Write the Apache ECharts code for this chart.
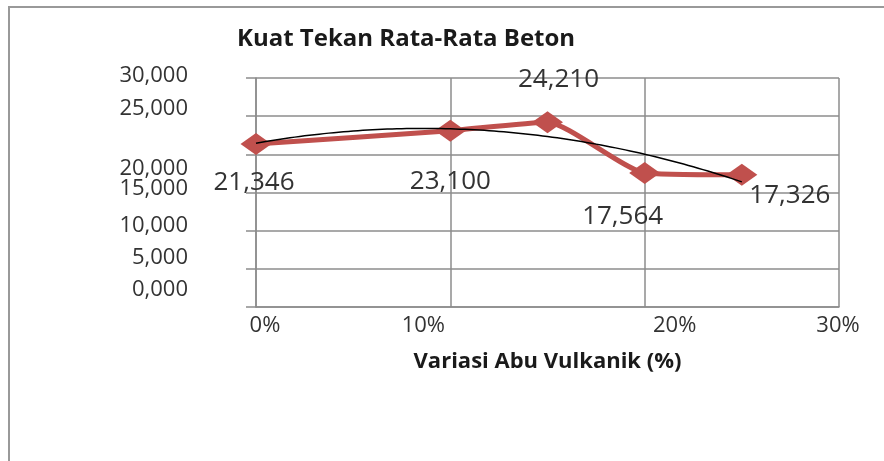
<!DOCTYPE html>
<html>
<head>
<meta charset="utf-8">
<script src="https://cdn.jsdelivr.net/npm/echarts@6/dist/echarts.min.js"></script>
<style>
  html, body { margin: 0; padding: 0; background: #fff; }
  #chart { width: 884px; height: 461px; }
</style>
</head>
<body>
<div id="chart"></div>
<script>
// data
const variasi = [0, 10, 15, 20, 25];          // % abu vulkanik
const kuatTekan = [21.346, 23.100, 24.210, 17.564, 17.326];
const xTicks = [0, 10, 20, 30];
const yTicks = [0, 5, 10, 15, 20, 25, 30];

const fmt = v => v.toFixed(3).replace('.', ',');

// polynomial (order 2) trendline, least squares on the data
function polyFit(xs, ys) {
  let s = [0, 0, 0, 0, 0], t = [0, 0, 0];
  for (let i = 0; i < xs.length; i++) {
    let p = 1;
    for (let k = 0; k < 5; k++) { s[k] += p; if (k < 3) t[k] += p * ys[i]; p *= xs[i]; }
  }
  const m = [[s[0], s[1], s[2], t[0]], [s[1], s[2], s[3], t[1]], [s[2], s[3], s[4], t[2]]];
  for (let c = 0; c < 3; c++) {
    for (let r = c + 1; r < 3; r++) {
      const f = m[r][c] / m[c][c];
      for (let k = c; k < 4; k++) m[r][k] -= f * m[c][k];
    }
  }
  const co = [0, 0, 0];
  for (let r = 2; r >= 0; r--) {
    let v = m[r][3];
    for (let k = r + 1; k < 3; k++) v -= m[r][k] * co[k];
    co[r] = v / m[r][r];
  }
  return co;
}
const co = polyFit(variasi, kuatTekan);
const trend = [];
for (let x = variasi[0]; x <= variasi[variasi.length - 1]; x += 0.5) {
  trend.push([x, co[0] + co[1] * x + co[2] * x * x]);
}

// label placement like in the original sheet
const labelOffsets = [[-2, 39], [0, 51], [11, -43], [-22, 44], [48, 21]];
const yShift = { 0: -17, 5: -11, 10: -5, 15: -4, 20: 14, 25: -7, 30: -2 };
const xShift = { 0: 9, 10: -27, 20: 30, 30: -1 };

const yRich = {}, xRich = {};
yTicks.forEach(v => {
  const d = yShift[v];
  yRich['y' + v] = { fontSize: 22, fontFamily: 'Open Sans', color: '#333',
    padding: d < 0 ? [0, 0, -2 * d, 0] : [2 * d, 0, 0, 0] };
});
xTicks.forEach(v => {
  const d = xShift[v];
  xRich['x' + v] = { fontSize: 22, fontFamily: 'Open Sans', color: '#333',
    padding: d > 0 ? [0, 0, 0, 2 * d] : [0, -2 * d, 0, 0] };
});

const gridColor = '#8c8c8c';
const chart = echarts.init(document.getElementById('chart'));

const option = {
  animation: false,
  textStyle: { fontFamily: 'Open Sans' },
  title: {
    text: 'Kuat Tekan Rata-Rata Beton',
    left: 232,
    top: 22,
    textStyle: { fontSize: 24, fontWeight: 'bold', color: '#1a1a1a', fontFamily: 'Open Sans' }
  },
  graphic: [{
    type: 'rect',
    shape: { x: 9, y: 7, width: 1000, height: 1000 },
    style: { fill: 'none', stroke: '#999', lineWidth: 2 }
  }],
  grid: { left: 256, right: 45, top: 78, bottom: 154 },
  xAxis: {
    type: 'value',
    min: 0, max: 30, interval: 10,
    name: 'Variasi Abu Vulkanik (%)',
    nameLocation: 'middle',
    nameGap: 44,
    nameTextStyle: { fontSize: 22, fontWeight: 'bold', color: '#1a1a1a' },
    axisLine: { lineStyle: { color: gridColor, width: 1.5 } },
    axisTick: { show: false },
    splitLine: { lineStyle: { color: gridColor, width: 1.5 } },
    axisLabel: {
      margin: 8,
      formatter: v => '{x' + v + '|' + v + '%}',
      rich: xRich
    }
  },
  yAxis: {
    type: 'value',
    min: 0, max: 30, interval: 5,
    axisLine: { show: true, lineStyle: { color: gridColor, width: 1.5 } },
    axisTick: { show: true, length: 10, lineStyle: { color: gridColor, width: 1.5 } },
    splitLine: { lineStyle: { color: gridColor, width: 1.5 } },
    axisLabel: {
      margin: 68,
      formatter: v => '{y' + v + '|' + fmt(v) + '}',
      rich: yRich
    }
  },
  series: [
    {
      type: 'line',
      data: variasi.map((x, i) => ({
        value: [x, kuatTekan[i]],
        label: { offset: labelOffsets[i] }
      })),
      smooth: 0.18,
      symbol: 'diamond',
      symbolSize: [31, 22],
      lineStyle: { color: '#c0504d', width: 5 },
      itemStyle: { color: '#c0504d' },
      label: {
        show: true,
        position: 'inside',
        fontSize: 26,
        fontFamily: 'Open Sans',
        color: '#333',
        textBorderWidth: 0,
        formatter: p => fmt(p.value[1])
      },
      z: 2
    },
    {
      type: 'line',
      data: trend,
      smooth: true,
      showSymbol: false,
      lineStyle: { color: '#000', width: 1.5 },
      silent: true,
      z: 3
    }
  ]
};
chart.setOption(option);
</script>
</body>
</html>
